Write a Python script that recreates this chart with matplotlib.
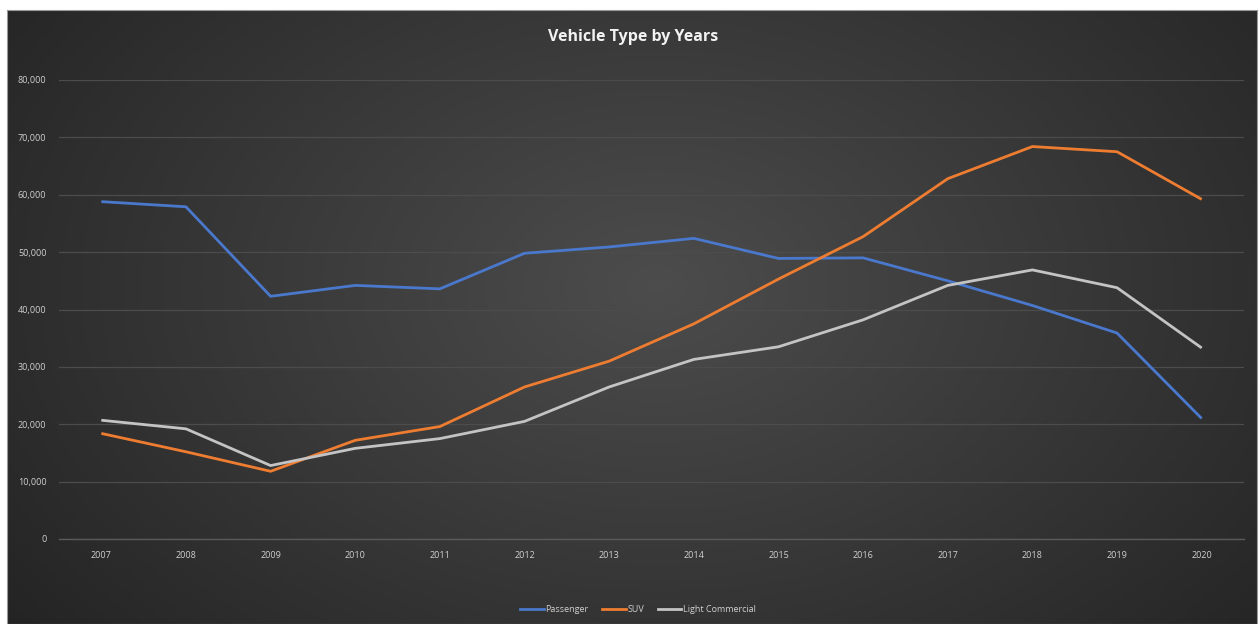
import numpy as np
import matplotlib
matplotlib.use("Agg")
import matplotlib.pyplot as plt
from matplotlib.lines import Line2D

years = [2007, 2008, 2009, 2010, 2011, 2012, 2013, 2014, 2015, 2016, 2017, 2018, 2019, 2020]
passenger = [58800, 57900, 42300, 44200, 43600, 49800, 50900, 52400, 48900, 49000, 45000, 40700, 35900, 21000]
suv = [18400, 15200, 11800, 17200, 19600, 26500, 31000, 37500, 45300, 52700, 62800, 68400, 67500, 59200]
light_commercial = [20700, 19200, 12800, 15800, 17500, 20500, 26500, 31300, 33500, 38200, 44200, 46900, 43800, 33300]
y_ticks = [0, 10000, 20000, 30000, 40000, 50000, 60000, 70000, 80000]

series = [
    ("Passenger", passenger, "#4a78cc"),
    ("SUV", suv, "#ee7d31"),
    ("Light Commercial", light_commercial, "#c4c4c4"),
]

plt.rcParams['font.family'] = ['Open Sans', 'DejaVu Sans']

W, H = 1259, 624
fig = plt.figure(figsize=(W / 100, H / 100), dpi=100)
fig.patch.set_facecolor("white")

# dark panel with a soft radial glow
px0, px1, py0, py1 = 7, 1257, 10, 624
bg = fig.add_axes([px0 / W, 0, (px1 - px0) / W, (py1 - py0) / H])
gx, gy = np.meshgrid(np.linspace(0, 1, 400), np.linspace(0, 1, 200))
r = np.sqrt(((gx - 0.52) / 0.62) ** 2 + ((gy - 0.55) / 0.85) ** 2)
shade = np.clip(0.30 - 0.15 * r, 0.14, 0.31)
bg.imshow(np.dstack([shade, shade, shade]), aspect="auto", extent=[0, 1, 0, 1], origin="lower")
bg.set_xlim(0, 1)
bg.set_ylim(0, 1)
bg.set_xticks([])
bg.set_yticks([])
for s in bg.spines.values():
    s.set_color("#9a9a9a")
    s.set_linewidth(0.8)

ax = fig.add_axes([59 / W, (H - 539) / H, (1244 - 59) / W, (539 - 80) / H])
ax.patch.set_alpha(0)
x = np.arange(len(years))
for name, vals, col in series:
    ax.plot(x, vals, color=col, lw=2.0, solid_capstyle="butt", label=name)

ax.set_xlim(-0.5, len(years) - 0.5)
ax.set_ylim(0, 80000)
ax.set_yticks(y_ticks)
ax.set_yticklabels([f"{v:,}" for v in y_ticks])
ax.set_xticks(x)
ax.set_xticklabels([str(y) for y in years])
ax.tick_params(axis="both", length=0, labelsize=6.5, colors="#d0d0d0")
ax.tick_params(axis="y", pad=9)
ax.tick_params(axis="x", pad=9)
ax.grid(axis="y", color="#4c4c4c", lw=0.9)
ax.set_axisbelow(True)
for s in ["top", "right", "left"]:
    ax.spines[s].set_visible(False)
ax.spines["bottom"].set_color("#5a5a5a")
ax.spines["bottom"].set_linewidth(1.0)

fig.text(633 / W, (H - 37) / H, "Vehicle Type by Years", ha="center", va="center",
         color="#f2f2f2", fontsize=11.5, fontweight="bold")

handles = [Line2D([0], [0], color=c, lw=2.0) for _, _, c in series]
fig.legend(handles, [n for n, _, _ in series], loc="center", bbox_to_anchor=(638 / W, (H - 610) / H),
           ncol=3, frameon=False, fontsize=6.5, labelcolor="#d0d0d0", handlelength=2.6,
           handletextpad=0.2, columnspacing=1.5)

fig.savefig("out.png", dpi=100, facecolor=fig.get_facecolor())
